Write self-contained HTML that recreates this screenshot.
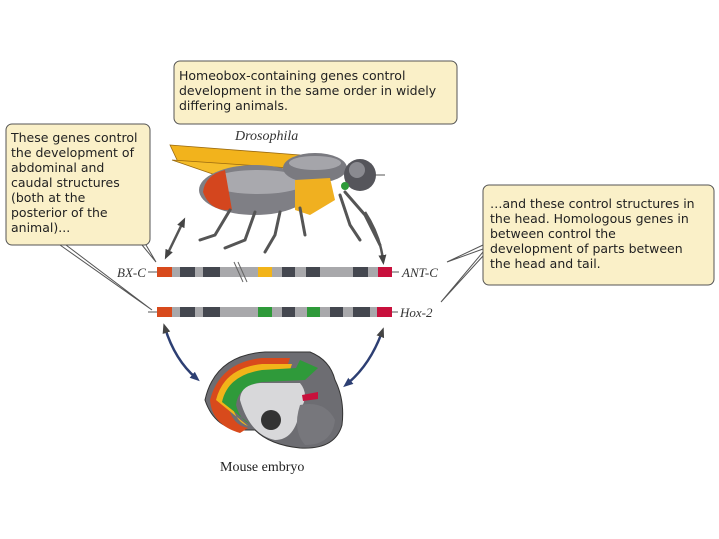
<!DOCTYPE html>
<html><head><meta charset="utf-8"><style>
body{margin:0;background:#fff;}
svg{display:block}
.b{font-family:"DejaVu Sans","Liberation Sans",sans-serif;font-size:12.5px;fill:#222}
.s{font-family:"Liberation Serif",serif;font-style:italic;font-size:13px;fill:#333}
</style></head><body>
<svg width="719" height="539" viewBox="0 0 719 539" xmlns="http://www.w3.org/2000/svg">
<defs>
<marker id="ah" markerUnits="userSpaceOnUse" markerWidth="10" markerHeight="10" refX="5" refY="5" orient="auto-start-reverse"><path d="M0,1 L10,5 L0,9 z" fill="#444"/></marker>
<marker id="ab" markerUnits="userSpaceOnUse" markerWidth="10" markerHeight="10" refX="5" refY="5" orient="auto-start-reverse"><path d="M0,1 L10,5 L0,9 z" fill="#2d3f73"/></marker>
</defs>
<!-- top box -->
<rect x="174" y="61" width="283" height="63" rx="6" fill="#faf0c8" stroke="#555" stroke-width="1"/>
<text class="b" x="179" y="80">Homeobox-containing genes control</text>
<text class="b" x="179" y="95">development in the same order in widely</text>
<text class="b" x="179" y="110">differing animals.</text>
<!-- left box -->
<rect x="6" y="124" width="144" height="121" rx="6" fill="#faf0c8" stroke="#555"/>
<text class="b" x="11" y="142">These genes control</text>
<text class="b" x="11" y="157">the development of</text>
<text class="b" x="11" y="172">abdominal and</text>
<text class="b" x="11" y="187">caudal structures</text>
<text class="b" x="11" y="202">(both at the</text>
<text class="b" x="11" y="217">posterior of the</text>
<text class="b" x="11" y="232">animal)...</text>
<path d="M142,245 L156,262 M146,245 L156,262" stroke="#555" fill="none"/>
<path d="M60,245 L152,310 M66,245 L152,310" stroke="#555" fill="none"/>
<!-- right box -->
<rect x="483" y="185" width="231" height="100" rx="6" fill="#faf0c8" stroke="#555"/>
<text class="b" x="490" y="208">…and these control structures in</text>
<text class="b" x="490" y="223">the head. Homologous genes in</text>
<text class="b" x="490" y="238">between control the</text>
<text class="b" x="490" y="253">development of parts between</text>
<text class="b" x="490" y="268">the head and tail.</text>
<path d="M483,245 L447,262 M483,249 L447,262" stroke="#555" fill="none"/>
<path d="M483,252 L441,302 M483,256 L441,302" stroke="#555" fill="none"/>
<!-- Drosophila -->
<text class="s" x="235" y="140" style="font-size:14px">Drosophila</text>
<g>
<path d="M170,145 L300,155 L330,185 L250,172 L178,162 Z" fill="#f2b31c" stroke="#9a6a10" stroke-width="0.8"/>
<path d="M172,160 L290,168 L320,190 L230,180 Z" fill="#f5bd2a" stroke="#9a6a10" stroke-width="0.8"/>
<ellipse cx="255" cy="190" rx="56" ry="25" fill="#7f7f85"/>
<ellipse cx="258" cy="182" rx="48" ry="12" fill="#a9a9ae"/>
<path d="M203,192 Q205,175 225,170 L232,210 Q210,212 203,192Z" fill="#d4461e"/>
<ellipse cx="315" cy="168" rx="32" ry="15" fill="#7a7a80"/>
<ellipse cx="315" cy="163" rx="26" ry="7" fill="#a5a5aa"/>
<path d="M295,180 L330,178 L335,200 L310,215 L295,210Z" fill="#f0b020"/>
<circle cx="360" cy="175" r="16" fill="#55555b"/>
<circle cx="357" cy="170" r="8" fill="#8a8a90"/>
<circle cx="345" cy="186" r="4" fill="#2f9a3a"/>
<path d="M375,175 L385,175" stroke="#555"/>
<g stroke="#555" stroke-width="3" fill="none" stroke-linecap="round">
<path d="M230,210 L215,235 L200,240"/>
<path d="M255,212 L245,240 L225,248"/>
<path d="M280,212 L275,235 L265,252"/>
<path d="M300,208 L305,235"/>
<path d="M345,192 L365,215 L380,245"/>
<path d="M340,195 L350,225 L360,240"/>
</g>
</g>
<!-- black arrows -->
<path d="M167,255 L183,222" stroke="#555" stroke-width="2.5" marker-start="url(#ah)" marker-end="url(#ah)"/>
<path d="M365,212 Q380,235 383,260" stroke="#555" stroke-width="2.5" fill="none" marker-end="url(#ah)"/>
<!-- gene bars -->
<g>
<text class="s" x="117" y="277">BX-C</text>
<line x1="148" y1="272" x2="157" y2="272" stroke="#555"/>
<rect x="157" y="267" width="235" height="10" fill="#a8a8ab"/>
<rect x="157" y="267" width="15" height="10" fill="#d84a1c"/>
<rect x="180" y="267" width="15" height="10" fill="#44474f"/>
<rect x="203" y="267" width="17" height="10" fill="#44474f"/>
<rect x="258" y="267" width="14" height="10" fill="#f2b419"/>
<rect x="282" y="267" width="13" height="10" fill="#44474f"/>
<rect x="306" y="267" width="14" height="10" fill="#44474f"/>
<rect x="353" y="267" width="15" height="10" fill="#44474f"/>
<rect x="378" y="267" width="14" height="10" fill="#c8103c"/>
<path d="M234,262 L243,282 M238,262 L247,282" stroke="#666"/>
<line x1="392" y1="272" x2="399" y2="272" stroke="#555"/>
<text class="s" x="402" y="277">ANT-C</text>

<line x1="148" y1="312" x2="157" y2="312" stroke="#555"/>
<rect x="157" y="307" width="235" height="10" fill="#a8a8ab"/>
<rect x="157" y="307" width="15" height="10" fill="#d84a1c"/>
<rect x="180" y="307" width="15" height="10" fill="#44474f"/>
<rect x="203" y="307" width="17" height="10" fill="#44474f"/>
<rect x="258" y="307" width="14" height="10" fill="#2f9a3a"/>
<rect x="282" y="307" width="13" height="10" fill="#44474f"/>
<rect x="307" y="307" width="13" height="10" fill="#2f9a3a"/>
<rect x="330" y="307" width="13" height="10" fill="#44474f"/>
<rect x="353" y="307" width="17" height="10" fill="#44474f"/>
<rect x="377" y="307" width="15" height="10" fill="#c8103c"/>
<line x1="392" y1="312" x2="398" y2="312" stroke="#555"/>
<text class="s" x="400" y="317">Hox-2</text>
</g>
<!-- blue arrows -->
<path d="M165,328 Q175,360 196,378" stroke="#2d3f73" stroke-width="2.5" fill="none" marker-start="url(#ah)" marker-end="url(#ab)"/>
<path d="M382,332 Q370,365 347,384" stroke="#2d3f73" stroke-width="2.5" fill="none" marker-start="url(#ah)" marker-end="url(#ab)"/>
<!-- embryo -->
<g>
<path d="M205,400 Q215,355 265,352 L310,352 Q330,360 335,380 Q345,400 342,425 Q335,450 300,448 Q270,445 255,430 L245,430 Q215,430 205,400Z" fill="#6d6d72" stroke="#333"/>
<path d="M210,400 Q220,362 262,358 L290,358 L285,373 L262,374 Q230,380 228,405 Q232,425 248,428 L240,433 Q212,425 210,400Z" fill="#d84a1c"/>
<path d="M216,400 Q224,368 262,364 L292,364 L288,376 L262,377 Q234,383 232,405 Q236,422 248,426 Z" fill="#f2b419"/>
<path d="M222,402 Q228,375 262,370 L296,368 L300,360 L318,368 L305,380 L262,382 Q238,386 236,405 Q240,420 250,424 Z" fill="#2f9a3a"/>
<path d="M240,400 Q240,385 260,383 L300,383 Q310,395 300,410 Q295,440 275,440 Q250,435 240,400Z" fill="#d8d8da"/>
<circle cx="271" cy="420" r="10" fill="#333"/>
<path d="M302,395 L318,392 L318,399 L303,401Z" fill="#c8103c"/>
<path d="M300,405 Q325,400 335,420 Q332,445 305,445 Q292,430 300,405Z" fill="#77777c"/>
</g>
<text x="220" y="471" style="font-family:'Liberation Serif',serif;font-size:14px;fill:#222">Mouse embryo</text>
</svg>
</body></html>
